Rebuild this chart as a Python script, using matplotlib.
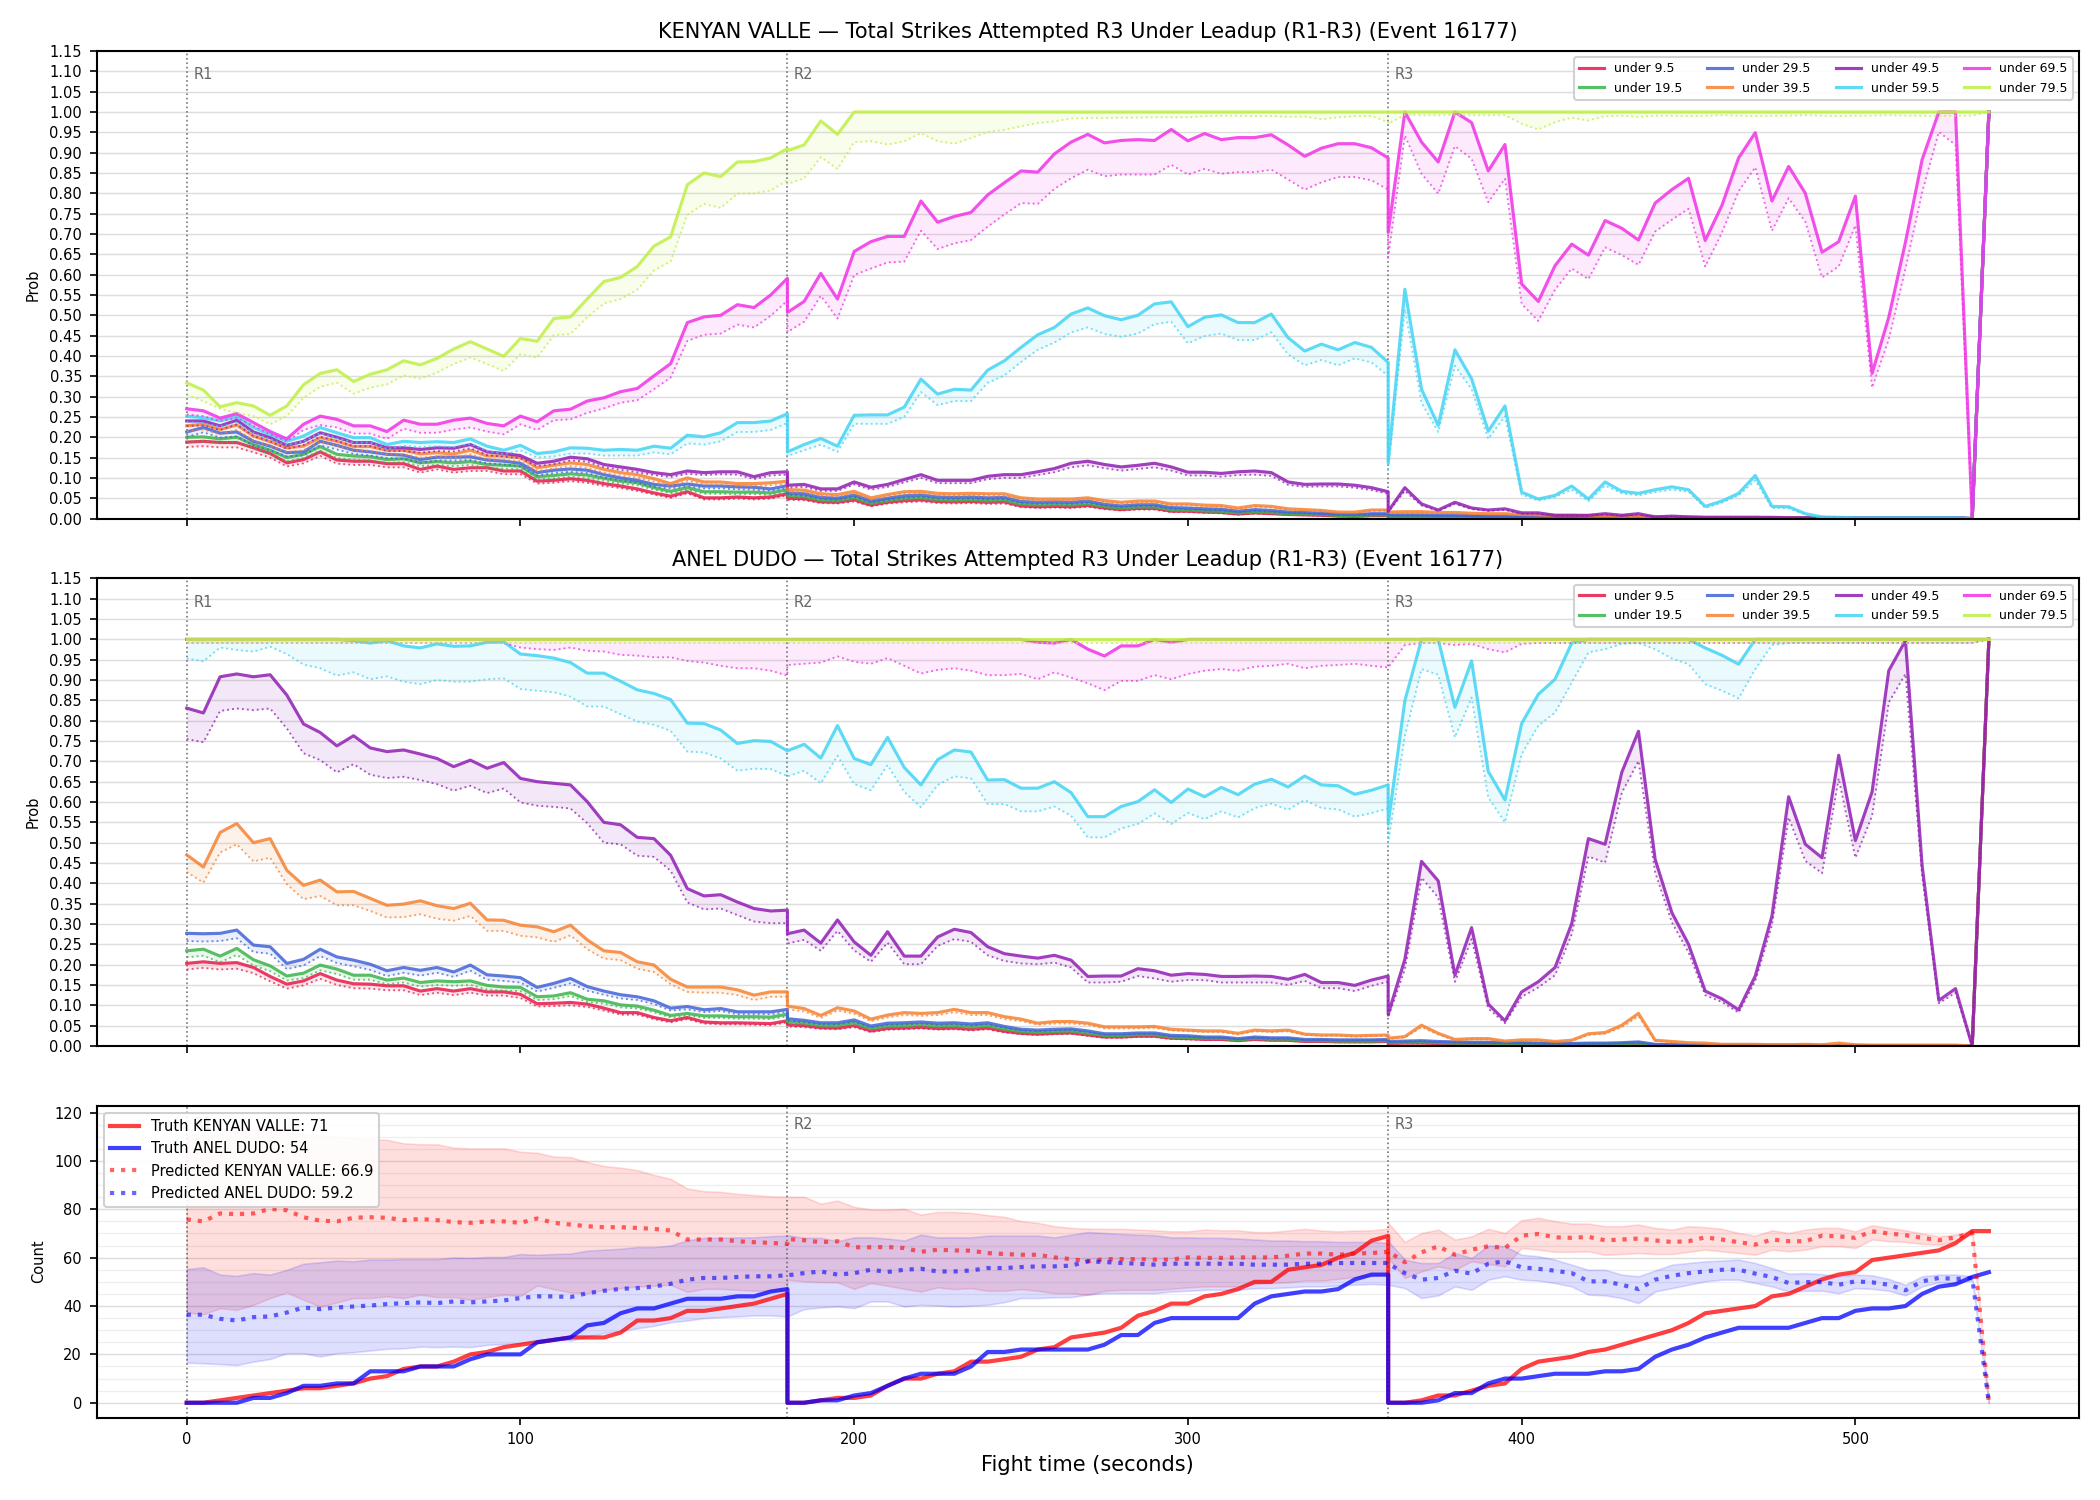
import matplotlib
matplotlib.use('Agg')
import matplotlib.pyplot as plt
import matplotlib.transforms as mtransforms
import numpy as np

# sample times: every 5 s, each round has its own 0..180 block
t_round = np.arange(0, 185, 5)
t = np.concatenate([t_round, t_round + 180, t_round + 360])

lines = ['under 9.5', 'under 19.5', 'under 29.5', 'under 39.5',
         'under 49.5', 'under 59.5', 'under 69.5', 'under 79.5']
colors = ['#e6194b', '#3cb44b', '#4363d8', '#f58231',
          '#911eb4', '#42d4f4', '#f032e6', '#bfef45']

# ---------------- KENYAN VALLE ----------------
kv_u95 = [0.188,0.190,0.187,0.187,0.174,0.160,0.137,0.145,0.164,0.144,0.141,0.141,0.135,0.135,0.121,0.129,0.121,0.125,0.125,0.117,0.117,0.092,0.094,0.098,0.094,0.086,0.080,0.073,0.063,0.055,0.066,0.051,0.051,0.053,0.051,0.053,0.061,
          0.050,0.049,0.041,0.040,0.046,0.033,0.040,0.044,0.046,0.042,0.041,0.042,0.040,0.041,0.031,0.029,0.030,0.029,0.032,0.026,0.022,0.025,0.025,0.018,0.018,0.016,0.015,0.011,0.014,0.012,0.010,0.009,0.008,0.006,0.005,0.007,0.007,
          0.004,0.004,0.004,0.004,0.003,0.003,0.003,0.003,0.002,0.002,0.002,0.002,0.002,0.001,0.001,0.001,0.001,0.001,0.001,0.001,0.001,0.001,0.001,0.001,0.001,0.001,0.001,0.001,0.001,0.001,0.001,0.001,0.001,0.001,0.001,0.0,1.0]
kv_u95_lo = [0.176,0.178,0.175,0.175,0.163,0.150,0.128,0.136,0.154,0.135,0.132,0.132,0.126,0.126,0.113,0.121,0.113,0.117,0.117,0.109,0.109,0.086,0.088,0.092,0.088,0.080,0.075,0.068,0.059,0.051,0.062,0.047,0.047,0.049,0.047,0.049,0.057,
             0.046,0.045,0.038,0.037,0.042,0.030,0.037,0.040,0.042,0.038,0.037,0.038,0.036,0.037,0.028,0.026,0.027,0.026,0.029,0.023,0.020,0.022,0.022,0.016,0.016,0.014,0.013,0.010,0.012,0.011,0.009,0.008,0.007,0.005,0.004,0.006,0.006,
             0.003,0.003,0.003,0.003,0.003,0.002,0.002,0.002,0.002,0.002,0.001,0.001,0.001,0.001,0.001,0.001,0.001,0.001,0.001,0.001,0.001,0.001,0.001,0.001,0.001,0.001,0.001,0.001,0.001,0.001,0.001,0.001,0.001,0.001,0.001,0.0,1.0]
kv_u195 = [0.200,0.201,0.196,0.200,0.182,0.168,0.150,0.158,0.177,0.158,0.154,0.152,0.145,0.147,0.137,0.140,0.137,0.140,0.133,0.131,0.129,0.103,0.106,0.110,0.107,0.099,0.092,0.088,0.076,0.067,0.076,0.066,0.066,0.065,0.065,0.063,0.071,
           0.057,0.055,0.046,0.045,0.052,0.038,0.045,0.050,0.052,0.047,0.046,0.047,0.045,0.046,0.036,0.034,0.035,0.034,0.037,0.030,0.026,0.029,0.029,0.022,0.021,0.019,0.018,0.014,0.017,0.015,0.012,0.011,0.010,0.008,0.007,0.009,0.009,
           0.006,0.006,0.006,0.005,0.005,0.005,0.004,0.004,0.003,0.003,0.003,0.003,0.002,0.002,0.002,0.002,0.002,0.001,0.001,0.001,0.001,0.001,0.001,0.001,0.001,0.001,0.001,0.001,0.001,0.001,0.001,0.001,0.001,0.001,0.001,0.0,1.0]
kv_u195_lo = [0.189,0.190,0.185,0.189,0.172,0.158,0.141,0.149,0.167,0.149,0.145,0.143,0.137,0.139,0.129,0.132,0.129,0.132,0.125,0.123,0.121,0.096,0.099,0.103,0.100,0.093,0.086,0.082,0.071,0.062,0.071,0.061,0.061,0.060,0.060,0.058,0.066,
              0.053,0.051,0.042,0.041,0.048,0.035,0.041,0.046,0.048,0.043,0.042,0.043,0.041,0.042,0.033,0.031,0.032,0.031,0.034,0.027,0.023,0.026,0.026,0.020,0.019,0.017,0.016,0.012,0.015,0.013,0.010,0.010,0.009,0.007,0.006,0.008,0.008,
              0.005,0.005,0.005,0.004,0.004,0.004,0.003,0.003,0.003,0.003,0.002,0.002,0.002,0.002,0.002,0.001,0.001,0.001,0.001,0.001,0.001,0.001,0.001,0.001,0.001,0.001,0.001,0.001,0.001,0.001,0.001,0.001,0.001,0.001,0.001,0.0,1.0]
kv_u295 = [0.213,0.224,0.210,0.213,0.190,0.178,0.162,0.164,0.190,0.180,0.168,0.164,0.158,0.156,0.145,0.151,0.151,0.152,0.144,0.141,0.136,0.113,0.119,0.122,0.119,0.108,0.100,0.094,0.084,0.080,0.085,0.080,0.080,0.078,0.077,0.073,0.081,
           0.063,0.061,0.052,0.050,0.058,0.043,0.050,0.056,0.058,0.053,0.052,0.053,0.051,0.052,0.042,0.040,0.041,0.040,0.043,0.035,0.031,0.034,0.034,0.027,0.026,0.024,0.023,0.018,0.022,0.020,0.016,0.015,0.013,0.011,0.010,0.012,0.012,
           0.009,0.009,0.009,0.008,0.008,0.007,0.006,0.006,0.005,0.005,0.004,0.004,0.004,0.003,0.003,0.003,0.002,0.002,0.002,0.002,0.002,0.001,0.001,0.001,0.001,0.001,0.001,0.001,0.001,0.001,0.001,0.001,0.001,0.001,0.001,0.0,1.0]
kv_u295_lo = [0.201,0.212,0.199,0.202,0.180,0.168,0.153,0.155,0.180,0.170,0.159,0.155,0.149,0.147,0.137,0.143,0.143,0.144,0.136,0.133,0.128,0.106,0.112,0.115,0.112,0.101,0.094,0.088,0.078,0.074,0.079,0.074,0.074,0.072,0.071,0.068,0.075,
              0.058,0.056,0.048,0.046,0.053,0.039,0.046,0.051,0.053,0.049,0.048,0.049,0.047,0.048,0.038,0.036,0.037,0.036,0.039,0.032,0.028,0.031,0.031,0.024,0.023,0.021,0.020,0.016,0.019,0.017,0.014,0.013,0.011,0.009,0.008,0.010,0.010,
              0.007,0.007,0.007,0.006,0.006,0.006,0.005,0.005,0.004,0.004,0.003,0.003,0.003,0.002,0.002,0.002,0.002,0.002,0.001,0.001,0.001,0.001,0.001,0.001,0.001,0.001,0.001,0.001,0.001,0.001,0.001,0.001,0.001,0.001,0.001,0.0,1.0]
kv_u395 = [0.228,0.232,0.219,0.230,0.203,0.189,0.174,0.178,0.199,0.190,0.177,0.177,0.168,0.168,0.159,0.162,0.159,0.168,0.154,0.154,0.150,0.125,0.131,0.137,0.133,0.121,0.113,0.108,0.098,0.086,0.100,0.090,0.090,0.086,0.086,0.088,0.092,
           0.071,0.070,0.061,0.059,0.067,0.051,0.059,0.066,0.067,0.062,0.061,0.062,0.061,0.061,0.051,0.048,0.048,0.048,0.051,0.044,0.040,0.043,0.043,0.036,0.036,0.033,0.032,0.026,0.032,0.030,0.024,0.022,0.020,0.016,0.016,0.021,0.021,
           0.016,0.017,0.017,0.015,0.015,0.013,0.012,0.012,0.010,0.009,0.008,0.008,0.007,0.007,0.006,0.006,0.005,0.004,0.004,0.003,0.003,0.003,0.003,0.002,0.002,0.002,0.002,0.002,0.002,0.002,0.001,0.001,0.001,0.001,0.001,0.0,1.0]
kv_u395_lo = [0.215,0.219,0.207,0.218,0.192,0.178,0.164,0.168,0.188,0.179,0.167,0.167,0.158,0.158,0.150,0.153,0.150,0.158,0.145,0.145,0.141,0.117,0.123,0.129,0.125,0.113,0.106,0.101,0.091,0.080,0.093,0.084,0.084,0.080,0.080,0.082,0.086,
              0.066,0.065,0.056,0.054,0.062,0.047,0.054,0.061,0.062,0.057,0.056,0.057,0.056,0.056,0.047,0.044,0.044,0.044,0.047,0.040,0.036,0.039,0.039,0.033,0.033,0.030,0.029,0.023,0.029,0.027,0.021,0.020,0.018,0.014,0.014,0.019,0.019,
              0.014,0.015,0.015,0.013,0.013,0.011,0.010,0.010,0.009,0.008,0.007,0.007,0.006,0.006,0.005,0.005,0.004,0.003,0.003,0.002,0.002,0.002,0.002,0.002,0.001,0.001,0.001,0.001,0.001,0.001,0.001,0.001,0.001,0.001,0.001,0.0,1.0]
kv_u495 = [0.240,0.240,0.228,0.242,0.213,0.199,0.180,0.190,0.211,0.200,0.187,0.187,0.174,0.174,0.170,0.174,0.173,0.182,0.164,0.160,0.155,0.136,0.141,0.151,0.147,0.133,0.127,0.121,0.113,0.108,0.117,0.113,0.115,0.115,0.103,0.113,0.115,
           0.082,0.084,0.073,0.073,0.090,0.077,0.084,0.096,0.108,0.094,0.094,0.094,0.104,0.108,0.108,0.115,0.123,0.136,0.141,0.133,0.127,0.131,0.136,0.127,0.114,0.114,0.111,0.115,0.117,0.113,0.090,0.084,0.085,0.085,0.082,0.076,0.066,
           0.018,0.076,0.036,0.021,0.040,0.026,0.021,0.024,0.014,0.014,0.008,0.008,0.008,0.012,0.008,0.012,0.004,0.006,0.004,0.003,0.003,0.003,0.003,0.003,0.002,0.002,0.002,0.002,0.002,0.002,0.002,0.002,0.002,0.002,0.002,0.0,1.0]
kv_u495_lo = [0.228,0.229,0.218,0.231,0.203,0.190,0.171,0.181,0.201,0.191,0.178,0.178,0.166,0.166,0.162,0.166,0.165,0.173,0.156,0.152,0.148,0.129,0.134,0.143,0.140,0.126,0.120,0.114,0.107,0.102,0.110,0.107,0.109,0.108,0.097,0.106,0.108,
              0.076,0.078,0.068,0.068,0.084,0.071,0.078,0.089,0.100,0.087,0.087,0.087,0.097,0.100,0.100,0.107,0.114,0.126,0.131,0.124,0.118,0.122,0.126,0.118,0.106,0.106,0.103,0.107,0.108,0.105,0.083,0.078,0.079,0.079,0.076,0.070,0.061,
              0.016,0.068,0.032,0.019,0.036,0.023,0.019,0.021,0.012,0.012,0.007,0.007,0.007,0.010,0.007,0.010,0.003,0.005,0.003,0.002,0.002,0.002,0.002,0.002,0.001,0.001,0.001,0.001,0.001,0.001,0.001,0.001,0.001,0.001,0.001,0.0,1.0]
kv_u595 = [0.252,0.248,0.240,0.251,0.224,0.207,0.190,0.203,0.224,0.211,0.199,0.199,0.182,0.190,0.187,0.189,0.187,0.196,0.178,0.168,0.180,0.160,0.164,0.174,0.173,0.168,0.170,0.168,0.178,0.173,0.205,0.201,0.211,0.236,0.236,0.240,0.258,
           0.164,0.182,0.197,0.178,0.254,0.255,0.255,0.274,0.343,0.306,0.318,0.316,0.365,0.388,0.421,0.452,0.470,0.503,0.518,0.499,0.489,0.500,0.528,0.533,0.472,0.495,0.501,0.482,0.482,0.503,0.445,0.412,0.429,0.415,0.433,0.421,0.384,
           0.137,0.564,0.318,0.229,0.415,0.344,0.215,0.277,0.065,0.048,0.057,0.080,0.048,0.090,0.067,0.062,0.071,0.078,0.071,0.030,0.043,0.062,0.106,0.030,0.029,0.012,0.004,0.003,0.002,0.002,0.002,0.002,0.002,0.002,0.002,0.0,1.0]
kv_u595_lo = [0.238,0.234,0.226,0.236,0.210,0.195,0.180,0.190,0.210,0.198,0.187,0.187,0.171,0.179,0.176,0.178,0.176,0.184,0.167,0.158,0.168,0.150,0.153,0.160,0.160,0.155,0.155,0.155,0.163,0.158,0.185,0.182,0.190,0.213,0.213,0.218,0.235,
              0.154,0.168,0.182,0.164,0.233,0.233,0.233,0.250,0.311,0.279,0.289,0.289,0.334,0.352,0.385,0.415,0.433,0.458,0.470,0.454,0.447,0.455,0.478,0.484,0.431,0.449,0.455,0.439,0.439,0.458,0.404,0.377,0.390,0.377,0.394,0.384,0.351,
              0.121,0.515,0.285,0.213,0.376,0.318,0.196,0.252,0.059,0.044,0.053,0.071,0.043,0.081,0.062,0.057,0.065,0.071,0.066,0.026,0.039,0.057,0.094,0.026,0.025,0.010,0.003,0.002,0.001,0.001,0.001,0.001,0.001,0.001,0.001,0.0,1.0]
kv_u695 = [0.270,0.265,0.247,0.258,0.236,0.214,0.196,0.232,0.252,0.244,0.228,0.228,0.214,0.242,0.232,0.232,0.242,0.247,0.234,0.228,0.252,0.238,0.265,0.269,0.289,0.297,0.312,0.320,0.351,0.381,0.482,0.496,0.500,0.526,0.519,0.550,0.591,
           0.507,0.534,0.603,0.540,0.657,0.681,0.694,0.694,0.781,0.729,0.743,0.753,0.796,0.826,0.855,0.852,0.897,0.926,0.945,0.924,0.930,0.932,0.930,0.957,0.929,0.947,0.932,0.937,0.937,0.944,0.919,0.891,0.911,0.922,0.922,0.912,0.887,
           0.704,1.000,0.926,0.877,1.000,0.974,0.855,0.920,0.577,0.534,0.622,0.675,0.648,0.733,0.714,0.685,0.776,0.809,0.837,0.684,0.770,0.887,0.949,0.781,0.866,0.800,0.655,0.681,0.793,0.357,0.495,0.680,0.883,1.000,1.000,0.0,1.0]
kv_u695_lo = [0.256,0.252,0.240,0.248,0.228,0.207,0.190,0.218,0.230,0.224,0.209,0.209,0.196,0.221,0.211,0.211,0.219,0.224,0.214,0.207,0.232,0.218,0.242,0.244,0.260,0.271,0.285,0.291,0.318,0.347,0.437,0.452,0.455,0.477,0.470,0.499,0.536,
              0.459,0.484,0.548,0.492,0.599,0.615,0.630,0.632,0.708,0.663,0.677,0.685,0.718,0.748,0.776,0.774,0.811,0.837,0.858,0.842,0.846,0.846,0.846,0.870,0.846,0.860,0.848,0.852,0.852,0.858,0.834,0.809,0.827,0.840,0.840,0.832,0.809,
              0.643,0.942,0.848,0.799,0.916,0.885,0.778,0.836,0.528,0.486,0.563,0.615,0.589,0.667,0.648,0.624,0.706,0.735,0.762,0.620,0.703,0.805,0.864,0.708,0.788,0.730,0.593,0.620,0.721,0.322,0.441,0.615,0.803,0.951,0.919,0.0,1.0]
kv_u795 = [0.334,0.316,0.275,0.285,0.277,0.254,0.277,0.329,0.357,0.366,0.337,0.355,0.366,0.388,0.378,0.394,0.417,0.435,0.417,0.399,0.443,0.436,0.492,0.496,0.540,0.583,0.593,0.620,0.670,0.693,0.821,0.850,0.841,0.877,0.878,0.887,0.910,
           0.905,0.919,0.978,0.945,1.0,1.0,1.0,1.0,1.0,1.0,1.0,1.0,1.0,1.0,1.0,1.0,1.0,1.0,1.0,1.0,1.0,1.0,1.0,1.0,1.0,1.0,1.0,1.0,1.0,1.0,1.0,1.0,1.0,1.0,1.0,1.0,1.0,
           1.0,1.0,1.0,1.0,1.0,1.0,1.0,1.0,1.0,1.0,1.0,1.0,1.0,1.0,1.0,1.0,1.0,1.0,1.0,1.0,1.0,1.0,1.0,1.0,1.0,1.0,1.0,1.0,1.0,1.0,1.0,1.0,1.0,1.0,1.0,1.0,1.0]
kv_u795_lo = [0.304,0.289,0.270,0.260,0.252,0.232,0.252,0.297,0.324,0.334,0.307,0.322,0.330,0.352,0.344,0.359,0.380,0.396,0.380,0.363,0.404,0.396,0.451,0.454,0.495,0.529,0.540,0.563,0.610,0.633,0.747,0.774,0.764,0.799,0.800,0.807,0.832,
              0.823,0.837,0.889,0.860,0.926,0.928,0.920,0.928,0.948,0.928,0.922,0.936,0.951,0.956,0.965,0.973,0.977,0.984,0.985,0.985,0.986,0.986,0.987,0.987,0.987,0.990,0.991,0.991,0.990,0.990,0.988,0.989,0.982,0.987,0.990,0.990,0.975,
              0.971,0.993,0.992,0.992,0.993,0.992,0.992,0.992,0.971,0.957,0.975,0.986,0.979,0.990,0.991,0.988,0.991,0.991,0.990,0.991,0.992,0.991,0.990,0.991,0.991,0.992,0.991,0.990,0.991,0.991,0.992,0.991,0.991,0.990,0.991,0.991,1.0]

# ---------------- ANEL DUDO ----------------
ad_u95 = [0.203,0.207,0.203,0.205,0.193,0.171,0.152,0.160,0.178,0.162,0.153,0.152,0.148,0.148,0.135,0.141,0.135,0.141,0.133,0.133,0.127,0.104,0.105,0.107,0.103,0.093,0.082,0.082,0.070,0.062,0.070,0.059,0.057,0.057,0.056,0.055,0.062,
          0.052,0.050,0.045,0.044,0.050,0.037,0.043,0.044,0.046,0.043,0.044,0.041,0.044,0.036,0.031,0.029,0.031,0.032,0.027,0.022,0.022,0.024,0.024,0.019,0.018,0.016,0.016,0.013,0.016,0.014,0.014,0.011,0.011,0.010,0.010,0.010,0.011,
          0.006,0.007,0.007,0.006,0.005,0.005,0.005,0.004,0.004,0.004,0.004,0.003,0.003,0.003,0.004,0.005,0.002,0.002,0.001,0.001,0.001,0.001,0.001,0.001,0.001,0.001,0.001,0.001,0.001,0.001,0.001,0.001,0.001,0.001,0.001,0.0,1.0]
ad_u95_lo = [0.188,0.192,0.188,0.190,0.179,0.159,0.141,0.149,0.165,0.150,0.142,0.141,0.137,0.137,0.125,0.131,0.125,0.131,0.124,0.124,0.118,0.097,0.098,0.100,0.096,0.087,0.077,0.077,0.066,0.058,0.066,0.055,0.053,0.053,0.052,0.051,0.058,
             0.048,0.046,0.042,0.041,0.046,0.034,0.040,0.041,0.043,0.040,0.041,0.038,0.041,0.033,0.029,0.027,0.029,0.030,0.025,0.020,0.020,0.022,0.022,0.017,0.016,0.015,0.015,0.012,0.015,0.013,0.013,0.010,0.010,0.009,0.009,0.009,0.010,
             0.005,0.006,0.006,0.005,0.004,0.004,0.004,0.003,0.003,0.003,0.003,0.002,0.002,0.002,0.003,0.004,0.001,0.001,0.001,0.001,0.001,0.001,0.001,0.001,0.001,0.001,0.001,0.001,0.001,0.001,0.001,0.001,0.001,0.001,0.001,0.0,1.0]
ad_u195 = [0.234,0.238,0.221,0.240,0.212,0.197,0.172,0.179,0.199,0.189,0.174,0.174,0.162,0.167,0.156,0.160,0.158,0.160,0.149,0.145,0.144,0.121,0.123,0.131,0.115,0.111,0.101,0.098,0.088,0.075,0.080,0.074,0.074,0.072,0.072,0.071,0.078,
           0.060,0.057,0.051,0.051,0.058,0.043,0.050,0.051,0.053,0.050,0.051,0.048,0.051,0.042,0.036,0.034,0.036,0.037,0.032,0.026,0.026,0.028,0.028,0.022,0.021,0.019,0.019,0.015,0.019,0.017,0.017,0.013,0.013,0.012,0.012,0.012,0.013,
           0.008,0.009,0.010,0.008,0.007,0.007,0.007,0.006,0.006,0.005,0.005,0.005,0.005,0.005,0.006,0.007,0.003,0.002,0.002,0.002,0.001,0.001,0.001,0.001,0.001,0.001,0.001,0.001,0.001,0.001,0.001,0.001,0.001,0.001,0.001,0.0,1.0]
ad_u195_lo = [0.218,0.222,0.206,0.224,0.198,0.184,0.161,0.167,0.186,0.177,0.163,0.163,0.152,0.156,0.146,0.150,0.148,0.150,0.139,0.136,0.135,0.113,0.115,0.123,0.108,0.104,0.095,0.092,0.083,0.070,0.075,0.069,0.069,0.067,0.067,0.066,0.073,
              0.056,0.053,0.047,0.047,0.054,0.040,0.046,0.047,0.049,0.046,0.047,0.044,0.047,0.039,0.033,0.031,0.033,0.034,0.029,0.024,0.024,0.026,0.026,0.020,0.019,0.017,0.017,0.014,0.017,0.015,0.015,0.012,0.012,0.011,0.011,0.011,0.012,
              0.007,0.008,0.009,0.007,0.006,0.006,0.006,0.005,0.005,0.004,0.004,0.004,0.004,0.004,0.005,0.006,0.002,0.002,0.002,0.001,0.001,0.001,0.001,0.001,0.001,0.001,0.001,0.001,0.001,0.001,0.001,0.001,0.001,0.001,0.001,0.0,1.0]
ad_u295 = [0.277,0.276,0.277,0.285,0.248,0.244,0.203,0.213,0.238,0.219,0.211,0.201,0.185,0.193,0.186,0.193,0.182,0.199,0.175,0.172,0.168,0.144,0.154,0.166,0.146,0.135,0.126,0.121,0.111,0.093,0.097,0.089,0.092,0.084,0.084,0.084,0.090,
           0.067,0.063,0.057,0.057,0.064,0.049,0.056,0.057,0.059,0.056,0.057,0.054,0.057,0.048,0.041,0.039,0.041,0.042,0.037,0.030,0.030,0.032,0.032,0.026,0.025,0.022,0.022,0.018,0.022,0.020,0.020,0.016,0.016,0.015,0.015,0.015,0.016,
           0.011,0.012,0.013,0.011,0.010,0.009,0.009,0.008,0.008,0.007,0.007,0.006,0.007,0.007,0.008,0.010,0.004,0.003,0.003,0.002,0.002,0.002,0.002,0.002,0.002,0.002,0.001,0.001,0.001,0.001,0.001,0.001,0.001,0.001,0.001,0.0,1.0]
ad_u295_lo = [0.258,0.257,0.258,0.265,0.231,0.227,0.189,0.198,0.221,0.204,0.196,0.187,0.172,0.180,0.173,0.180,0.170,0.185,0.163,0.160,0.156,0.134,0.143,0.154,0.136,0.126,0.117,0.113,0.103,0.087,0.090,0.083,0.086,0.078,0.078,0.078,0.084,
              0.062,0.058,0.053,0.053,0.059,0.045,0.052,0.053,0.055,0.052,0.053,0.050,0.053,0.044,0.038,0.036,0.038,0.039,0.034,0.028,0.028,0.030,0.030,0.024,0.023,0.020,0.020,0.017,0.020,0.018,0.018,0.015,0.015,0.014,0.014,0.014,0.015,
              0.010,0.011,0.012,0.010,0.009,0.008,0.008,0.007,0.007,0.006,0.006,0.005,0.006,0.006,0.007,0.009,0.003,0.003,0.002,0.002,0.002,0.002,0.002,0.002,0.001,0.001,0.001,0.001,0.001,0.001,0.001,0.001,0.001,0.001,0.001,0.0,1.0]
ad_u395 = [0.470,0.440,0.525,0.547,0.500,0.510,0.432,0.395,0.408,0.379,0.380,0.363,0.346,0.349,0.357,0.345,0.338,0.351,0.310,0.309,0.297,0.293,0.281,0.297,0.261,0.234,0.230,0.207,0.199,0.164,0.145,0.145,0.145,0.138,0.125,0.133,0.133,
           0.098,0.092,0.075,0.094,0.086,0.066,0.076,0.082,0.080,0.082,0.090,0.082,0.082,0.072,0.066,0.056,0.060,0.060,0.056,0.047,0.047,0.047,0.048,0.041,0.039,0.037,0.037,0.031,0.039,0.037,0.039,0.029,0.027,0.027,0.025,0.026,0.027,
           0.019,0.023,0.051,0.031,0.016,0.018,0.018,0.012,0.015,0.015,0.011,0.014,0.030,0.033,0.051,0.080,0.014,0.011,0.008,0.007,0.004,0.004,0.004,0.003,0.003,0.004,0.003,0.007,0.003,0.002,0.002,0.002,0.002,0.002,0.002,0.0,1.0]
ad_u395_lo = [0.428,0.402,0.476,0.496,0.454,0.463,0.398,0.361,0.369,0.346,0.346,0.332,0.316,0.317,0.324,0.313,0.308,0.320,0.283,0.283,0.271,0.267,0.256,0.272,0.238,0.215,0.211,0.190,0.182,0.152,0.133,0.131,0.131,0.125,0.113,0.121,0.121,
              0.090,0.085,0.069,0.087,0.079,0.061,0.070,0.076,0.074,0.076,0.083,0.076,0.076,0.066,0.061,0.052,0.055,0.055,0.052,0.043,0.043,0.043,0.044,0.038,0.036,0.034,0.034,0.028,0.036,0.034,0.036,0.027,0.025,0.025,0.023,0.024,0.025,
              0.017,0.021,0.046,0.028,0.014,0.016,0.016,0.011,0.013,0.013,0.010,0.012,0.027,0.030,0.046,0.073,0.012,0.010,0.007,0.006,0.003,0.003,0.003,0.003,0.003,0.003,0.003,0.006,0.003,0.002,0.002,0.002,0.002,0.002,0.002,0.0,1.0]
ad_u495 = [0.831,0.819,0.908,0.915,0.908,0.913,0.863,0.792,0.771,0.738,0.763,0.733,0.724,0.728,0.718,0.707,0.687,0.703,0.683,0.697,0.658,0.650,0.646,0.642,0.601,0.550,0.544,0.513,0.510,0.469,0.387,0.369,0.372,0.354,0.338,0.332,0.334,
           0.276,0.285,0.253,0.310,0.256,0.223,0.281,0.221,0.221,0.268,0.287,0.279,0.244,0.227,0.221,0.216,0.223,0.211,0.171,0.172,0.172,0.190,0.185,0.174,0.178,0.176,0.171,0.171,0.172,0.171,0.164,0.176,0.156,0.156,0.149,0.162,0.172,
           0.078,0.213,0.454,0.406,0.174,0.291,0.103,0.062,0.133,0.158,0.193,0.301,0.510,0.496,0.673,0.774,0.459,0.328,0.250,0.135,0.116,0.089,0.172,0.320,0.613,0.496,0.463,0.715,0.505,0.625,0.923,0.997,0.443,0.112,0.141,0.0,1.0]
ad_u495_lo = [0.755,0.747,0.824,0.830,0.826,0.830,0.781,0.720,0.703,0.673,0.693,0.667,0.659,0.662,0.654,0.644,0.628,0.640,0.622,0.633,0.599,0.591,0.588,0.584,0.548,0.500,0.496,0.468,0.465,0.431,0.353,0.336,0.338,0.322,0.306,0.302,0.302,
              0.252,0.261,0.234,0.283,0.235,0.207,0.254,0.201,0.201,0.246,0.263,0.256,0.223,0.209,0.203,0.201,0.205,0.193,0.156,0.156,0.158,0.172,0.166,0.158,0.162,0.162,0.156,0.156,0.156,0.156,0.150,0.160,0.142,0.142,0.135,0.148,0.158,
              0.070,0.189,0.414,0.365,0.158,0.263,0.092,0.056,0.121,0.144,0.174,0.275,0.466,0.451,0.623,0.701,0.427,0.304,0.230,0.125,0.108,0.082,0.160,0.297,0.562,0.455,0.425,0.658,0.463,0.566,0.845,0.915,0.418,0.105,0.131,0.0,1.0]
ad_u595 = [1.0,1.0,1.0,1.0,1.0,1.0,1.0,1.0,1.0,1.0,0.997,0.991,0.997,0.984,0.979,0.989,0.983,0.984,0.993,0.994,0.964,0.960,0.954,0.943,0.917,0.917,0.897,0.876,0.867,0.852,0.794,0.793,0.777,0.744,0.751,0.749,0.726,
           0.726,0.742,0.708,0.788,0.707,0.692,0.759,0.685,0.642,0.704,0.728,0.723,0.654,0.655,0.634,0.634,0.650,0.623,0.564,0.564,0.589,0.601,0.630,0.599,0.632,0.613,0.636,0.618,0.644,0.656,0.637,0.664,0.642,0.640,0.619,0.629,0.642,
           0.546,0.849,1.0,1.0,0.833,0.947,0.675,0.605,0.793,0.865,0.902,0.991,1.0,1.0,1.0,1.0,1.0,1.0,1.0,0.979,0.961,0.939,1.0,1.0,1.0,1.0,1.0,1.0,1.0,1.0,1.0,1.0,1.0,1.0,1.0,1.0,1.0]
ad_u595_lo = [0.953,0.946,0.980,0.974,0.970,0.982,0.964,0.938,0.929,0.911,0.919,0.902,0.909,0.896,0.890,0.900,0.896,0.896,0.902,0.904,0.878,0.874,0.870,0.859,0.835,0.835,0.816,0.798,0.790,0.775,0.724,0.722,0.707,0.677,0.682,0.681,0.664,
              0.663,0.677,0.646,0.714,0.644,0.629,0.691,0.625,0.587,0.642,0.663,0.658,0.595,0.595,0.577,0.577,0.589,0.566,0.513,0.513,0.535,0.546,0.572,0.546,0.573,0.558,0.577,0.562,0.585,0.596,0.581,0.605,0.585,0.582,0.564,0.573,0.584,
              0.500,0.763,0.927,0.913,0.759,0.857,0.611,0.550,0.718,0.788,0.820,0.894,0.968,0.976,0.989,0.991,0.976,0.953,0.939,0.890,0.874,0.855,0.927,0.986,0.991,0.991,0.991,0.991,0.991,0.991,0.991,0.991,0.991,0.991,0.991,0.991,1.0]
ad_u695 = [1.0,1.0,1.0,1.0,1.0,1.0,1.0,1.0,1.0,1.0,1.0,1.0,1.0,1.0,1.0,1.0,1.0,1.0,1.0,1.0,1.0,1.0,1.0,1.0,1.0,1.0,1.0,1.0,1.0,1.0,1.0,1.0,1.0,1.0,1.0,1.0,1.0,
           1.0,1.0,1.0,1.0,1.0,1.0,1.0,1.0,1.0,1.0,1.0,1.0,1.0,1.0,1.0,0.993,0.991,1.0,0.976,0.959,0.984,0.984,1.0,0.993,1.0,1.0,1.0,1.0,1.0,1.0,1.0,1.0,1.0,1.0,1.0,1.0,1.0,
           1.0,1.0,1.0,1.0,1.0,1.0,1.0,1.0,1.0,1.0,1.0,1.0,1.0,1.0,1.0,1.0,1.0,1.0,1.0,1.0,1.0,1.0,1.0,1.0,1.0,1.0,1.0,1.0,1.0,1.0,1.0,1.0,1.0,1.0,1.0,1.0,1.0]
ad_u695_lo = [0.991,0.991,0.991,0.991,0.991,0.991,0.991,0.991,0.991,0.991,0.991,0.991,0.991,0.991,0.991,0.991,0.991,0.991,0.991,0.991,0.980,0.976,0.974,0.980,0.972,0.970,0.962,0.960,0.956,0.956,0.947,0.943,0.935,0.929,0.929,0.923,0.911,
              0.937,0.940,0.943,0.958,0.945,0.940,0.954,0.935,0.916,0.925,0.929,0.923,0.912,0.912,0.915,0.902,0.919,0.906,0.892,0.875,0.898,0.898,0.912,0.902,0.915,0.923,0.927,0.923,0.933,0.935,0.940,0.929,0.935,0.937,0.940,0.935,0.931,
              0.931,0.986,0.991,0.991,0.986,0.989,0.976,0.968,0.989,0.991,0.991,0.991,0.991,0.991,0.991,0.991,0.991,0.991,0.991,0.991,0.991,0.991,0.991,0.991,0.991,0.991,0.991,0.991,0.991,0.991,0.991,0.991,0.991,0.991,0.991,0.991,1.0]
ad_u795 = [1.0,1.0,1.0,1.0,1.0,1.0,1.0,1.0,1.0,1.0,1.0,1.0,1.0,1.0,1.0,1.0,1.0,1.0,1.0,1.0,1.0,1.0,1.0,1.0,1.0,1.0,1.0,1.0,1.0,1.0,1.0,1.0,1.0,1.0,1.0,1.0,1.0,
           1.0,1.0,1.0,1.0,1.0,1.0,1.0,1.0,1.0,1.0,1.0,1.0,1.0,1.0,1.0,1.0,1.0,1.0,1.0,1.0,1.0,1.0,1.0,1.0,1.0,1.0,1.0,1.0,1.0,1.0,1.0,1.0,1.0,1.0,1.0,1.0,1.0,
           1.0,1.0,1.0,1.0,1.0,1.0,1.0,1.0,1.0,1.0,1.0,1.0,1.0,1.0,1.0,1.0,1.0,1.0,1.0,1.0,1.0,1.0,1.0,1.0,1.0,1.0,1.0,1.0,1.0,1.0,1.0,1.0,1.0,1.0,1.0,1.0,1.0]
ad_u795_lo = [0.991,0.991,0.991,0.991,0.991,0.991,0.991,0.991,0.991,0.991,0.991,0.991,0.991,0.991,0.991,0.991,0.991,0.991,0.991,0.991,0.991,0.991,0.991,0.991,0.991,0.991,0.991,0.991,0.991,0.991,0.991,0.991,0.991,0.991,0.991,0.991,0.991,
              0.991,0.991,0.991,0.991,0.991,0.991,0.991,0.991,0.991,0.991,0.991,0.991,0.991,0.991,0.991,0.991,0.991,0.991,0.991,0.991,0.991,0.991,0.991,0.991,0.991,0.991,0.991,0.991,0.991,0.991,0.991,0.991,0.991,0.991,0.991,0.991,0.991,
              0.991,0.991,0.991,0.991,0.991,0.991,0.991,0.991,0.991,0.991,0.991,0.991,0.991,0.991,0.991,0.991,0.991,0.991,0.991,0.991,0.991,0.991,0.991,0.991,0.991,0.991,0.991,0.991,0.991,0.991,0.991,0.991,0.991,0.991,0.991,0.991,1.0]

# ---------------- counts ----------------
truth_kv = [0,0,1,2,3,4,5,6,6,7,8,10,11,14,15,15,17,20,21,23,24,25,26,27,27,27,29,34,34,35,38,38,39,40,41,43,45,
            0,0,1,2,2,3,7,10,10,12,13,17,17,18,19,22,23,27,28,29,31,36,38,41,41,44,45,47,50,50,55,56,57,60,62,67,69,
            0,0,1,3,3,5,7,8,14,17,18,19,21,22,24,26,28,30,33,37,38,39,40,44,45,48,51,53,54,59,60,61,62,63,66,71,71]
truth_ad = [0,0,0,0,2,2,4,7,7,8,8,13,13,13,15,15,15,18,20,20,20,25,26,27,32,33,37,39,39,41,43,43,43,44,44,46,47,
            0,0,1,1,3,4,7,10,12,12,12,15,21,21,22,22,22,22,22,24,28,28,33,35,35,35,35,35,41,44,45,46,46,47,51,53,53,
            0,0,0,1,4,4,8,10,10,11,12,12,12,13,13,14,19,22,24,27,29,31,31,31,31,33,35,35,38,39,39,40,45,48,49,52,54]
pred_kv = [75.8,75.0,78.3,78.0,78.3,80.2,79.6,76.7,75.3,75.0,76.5,76.7,76.5,75.5,76.0,75.5,74.7,74.4,75.0,75.0,74.4,76.2,74.4,73.7,73.0,72.6,72.6,72.3,71.9,71.2,67.5,67.5,67.5,66.8,66.4,66.1,65.7,
           67.7,67.2,66.4,66.8,64.3,64.3,64.4,64.0,62.4,63.3,63.0,62.9,61.9,61.5,61.2,61.2,60.1,59.4,58.5,59.4,59.4,59.4,59.2,59.2,60.1,59.9,59.9,60.1,60.1,60.1,60.8,61.7,61.7,61.2,61.7,61.9,62.4,
           62.6,58.1,62.2,64.7,61.2,63.3,64.7,64.0,69.1,69.8,68.4,68.2,68.6,67.2,67.5,67.9,67.1,66.5,66.8,68.4,67.5,66.4,65.4,67.5,66.8,66.8,69.1,68.8,68.2,70.9,70.0,69.3,68.2,67.2,68.4,70.2,0.0]
pred_kv_hi = [110.5,111.0,111.5,112.0,112.5,113.0,112.0,111.0,110.5,110.0,109.5,109.0,108.7,107.3,106.9,106.9,105.5,105.2,105.2,105.2,103.8,103.4,101.8,101.6,99.5,97.9,97.2,96.2,94.2,92.6,88.6,87.5,87.2,86.4,85.9,85.4,85.2,
              85.2,85.2,82.3,83.6,81.0,79.9,79.9,80.2,77.8,78.9,78.9,78.5,77.6,76.9,75.1,74.4,73.0,72.3,72.0,71.9,71.9,71.6,71.3,70.9,70.9,71.6,71.3,71.3,70.6,70.6,71.2,71.9,71.2,70.9,71.2,71.3,72.0,
              74.4,66.5,70.2,71.6,67.5,68.8,71.9,70.2,75.5,76.5,75.1,74.1,74.1,73.0,73.0,73.7,72.3,71.6,73.0,72.6,71.9,70.2,69.1,71.3,70.2,71.6,72.3,72.3,70.9,73.4,72.3,71.3,70.0,68.8,69.5,71.2,0.0]
pred_kv_lo = [37.3,36.6,39.1,38.4,40.5,43.3,45.6,42.6,39.8,41.5,43.3,43.3,44.0,43.3,44.7,43.7,43.7,42.6,43.7,44.7,44.2,48.5,47.0,45.6,45.3,46.7,47.4,48.1,48.4,48.8,45.8,47.1,47.1,46.7,46.3,46.3,46.5,
              50.9,50.2,49.9,49.8,47.1,49.5,48.4,47.1,46.0,47.7,47.0,47.4,46.3,46.3,47.0,46.3,45.3,45.3,44.7,46.3,46.7,46.7,46.7,47.1,47.7,48.1,48.1,48.1,49.1,49.5,49.8,50.5,50.5,51.2,52.0,52.3,53.0,
              59.9,51.6,54.3,56.4,55.0,58.5,57.4,56.4,64.0,63.3,62.4,62.4,62.6,61.2,61.5,61.9,61.5,61.5,62.4,63.3,62.6,61.9,61.2,63.3,62.6,63.3,64.7,64.7,64.0,67.5,66.8,66.5,65.7,65.4,66.8,69.8,0.0]
pred_ad = [36.4,36.4,34.7,34.0,35.4,35.7,37.3,39.4,38.7,39.4,39.8,40.2,40.8,41.2,41.5,41.2,41.9,41.5,41.9,42.3,43.3,44.0,44.0,43.7,45.3,46.3,47.1,47.4,48.1,49.2,50.9,51.6,51.6,52.0,52.3,52.3,52.7,
           52.7,53.6,54.3,53.0,53.6,55.0,54.1,55.0,55.4,54.3,54.3,54.7,55.7,55.7,56.1,56.4,56.4,56.7,58.5,58.2,57.8,57.5,57.1,57.5,57.5,57.5,57.5,57.5,57.1,57.1,57.1,57.5,57.5,57.8,57.8,57.8,57.8,
           57.5,53.6,50.9,51.6,54.6,53.4,57.5,58.5,56.0,55.4,54.6,53.6,50.2,50.2,48.8,47.0,50.9,52.5,53.6,54.3,55.0,55.0,53.4,52.0,49.5,49.9,49.9,48.8,50.2,49.8,48.8,46.5,50.2,51.6,51.2,51.6,0.0]
pred_ad_hi = [55.3,56.0,53.0,52.5,53.6,53.0,55.0,57.5,58.1,58.8,58.5,59.2,59.2,59.4,59.4,59.4,60.1,59.9,60.3,60.3,61.5,61.2,61.5,61.7,62.9,63.3,63.7,64.4,64.4,65.0,67.2,68.2,68.2,68.4,68.4,68.9,69.1,
              69.3,68.2,68.2,66.8,68.4,68.4,67.9,67.1,69.5,68.4,68.4,68.4,69.1,69.1,69.1,69.1,68.4,69.5,70.6,70.2,69.8,69.5,69.3,68.4,68.4,68.2,68.2,67.9,67.5,67.1,67.1,66.8,66.8,66.5,66.5,66.5,66.1,
              66.8,59.2,57.8,57.8,61.9,59.9,65.0,64.7,61.2,60.6,59.2,57.1,55.0,55.0,53.0,52.3,54.7,57.1,57.8,58.5,58.8,59.2,57.8,55.7,53.4,53.6,53.2,52.3,53.0,52.7,51.2,48.8,52.3,53.0,53.0,52.3,0.0]
pred_ad_lo = [16.6,16.3,16.0,15.6,17.0,18.1,20.5,20.5,19.1,20.5,20.9,21.6,22.3,22.5,23.2,23.0,23.2,23.0,23.9,24.3,24.6,26.0,26.4,25.7,27.4,28.8,29.7,30.8,31.8,33.3,34.0,35.0,35.4,35.7,36.1,36.1,35.7,
              35.7,38.7,39.4,39.8,39.1,41.9,41.9,39.8,40.5,40.2,39.8,40.1,40.5,41.6,43.3,43.3,43.6,43.7,44.7,45.3,45.3,45.3,45.3,46.0,46.3,46.7,46.7,46.7,47.4,47.4,47.7,48.1,48.1,48.5,48.8,49.1,48.8,
              48.8,47.4,43.3,44.4,48.1,46.7,50.9,52.3,50.9,50.5,49.5,48.1,44.7,44.4,43.3,41.2,46.0,47.4,48.8,50.2,50.9,50.9,49.5,48.1,46.0,46.3,46.3,45.3,47.4,47.1,46.3,44.4,48.1,49.8,49.5,50.5,0.0]

round_starts = [0, 180, 360]
round_names = ['R1', 'R2', 'R3']

kv_series = [(kv_u95, kv_u95_lo), (kv_u195, kv_u195_lo), (kv_u295, kv_u295_lo), (kv_u395, kv_u395_lo),
             (kv_u495, kv_u495_lo), (kv_u595, kv_u595_lo), (kv_u695, kv_u695_lo), (kv_u795, kv_u795_lo)]
ad_series = [(ad_u95, ad_u95_lo), (ad_u195, ad_u195_lo), (ad_u295, ad_u295_lo), (ad_u395, ad_u395_lo),
             (ad_u495, ad_u495_lo), (ad_u595, ad_u595_lo), (ad_u695, ad_u695_lo), (ad_u795, ad_u795_lo)]


def mark_rounds(ax, names):
    trans = mtransforms.blended_transform_factory(ax.transData, ax.transAxes)
    for x0, name in zip(round_starts, names):
        ax.axvline(x0, color='#555555', ls=':', lw=0.8, alpha=0.8, zorder=1)
        ax.text(x0 + 2, 0.965, name, transform=trans, fontsize=7, color='#666666',
                ha='left', va='top')


def draw_probs(ax, series, title):
    for label, color, (hi, lo) in zip(lines, colors, series):
        ax.fill_between(t, lo, hi, color=color, alpha=0.1, linewidth=0)
        ax.plot(t, lo, color=color, lw=0.9, ls=':', alpha=0.75)
        ax.plot(t, hi, color=color, lw=1.5, alpha=0.85, label=label)
    ax.set_ylim(0, 1.15)
    ax.set_yticks(np.arange(0, 1.151, 0.05))
    ax.yaxis.set_major_formatter(plt.FormatStrFormatter('%.2f'))
    ax.grid(axis='y', color='#dddddd', lw=0.7)
    ax.set_axisbelow(True)
    ax.set_ylabel('Prob', fontsize=7)
    ax.set_title(title, fontsize=10)
    ax.legend(loc='upper right', ncol=4, fontsize=6, framealpha=0.9)
    mark_rounds(ax, round_names)


fig, (ax1, ax2, ax3) = plt.subplots(3, 1, figsize=(14, 10), dpi=150, sharex=True,
                                    gridspec_kw={'height_ratios': [1.5, 1.5, 1]})
fig.subplots_adjust(left=0.046, right=0.99, top=0.966, bottom=0.055, hspace=0.144)

draw_probs(ax1, kv_series, 'KENYAN VALLE \u2014 Total Strikes Attempted R3 Under Leadup (R1-R3) (Event 16177)')
draw_probs(ax2, ad_series, 'ANEL DUDO \u2014 Total Strikes Attempted R3 Under Leadup (R1-R3) (Event 16177)')

# bottom: counts
ax3.fill_between(t, pred_kv_lo, pred_kv_hi, color='red', alpha=0.13, edgecolor=(1, 0, 0, 0.2), linewidth=0.8)
ax3.fill_between(t, pred_ad_lo, pred_ad_hi, color='blue', alpha=0.13, edgecolor=(0, 0, 1, 0.2), linewidth=0.8)
ax3.plot(t, truth_kv, color='red', lw=2, alpha=0.75, label='Truth KENYAN VALLE: 71')
ax3.plot(t, truth_ad, color='blue', lw=2, alpha=0.75, label='Truth ANEL DUDO: 54')
ax3.plot(t, pred_kv, color='red', lw=2, ls=':', alpha=0.6, label='Predicted KENYAN VALLE: 66.9')
ax3.plot(t, pred_ad, color='blue', lw=2, ls=':', alpha=0.6, label='Predicted ANEL DUDO: 59.2')
ax3.set_ylim(-6.1, 122.8)
ax3.set_yticks(np.arange(0, 121, 20))
ax3.set_yticks(np.arange(0, 121, 5), minor=True)
ax3.tick_params(axis='y', which='minor', length=0)
ax3.grid(axis='y', which='major', color='#dddddd', lw=0.7)
ax3.grid(axis='y', which='minor', color='#eeeeee', lw=0.6)
ax3.set_axisbelow(True)
ax3.set_ylabel('Count', fontsize=7)
ax3.set_xlabel('Fight time (seconds)', fontsize=10)
ax3.legend(loc='upper left', fontsize=7, framealpha=0.9)
mark_rounds(ax3, round_names)

for ax in (ax1, ax2, ax3):
    ax.tick_params(labelsize=7)
    for s in ax.spines.values():
        s.set_linewidth(1.0)

fig.savefig('out.png', dpi=150)
